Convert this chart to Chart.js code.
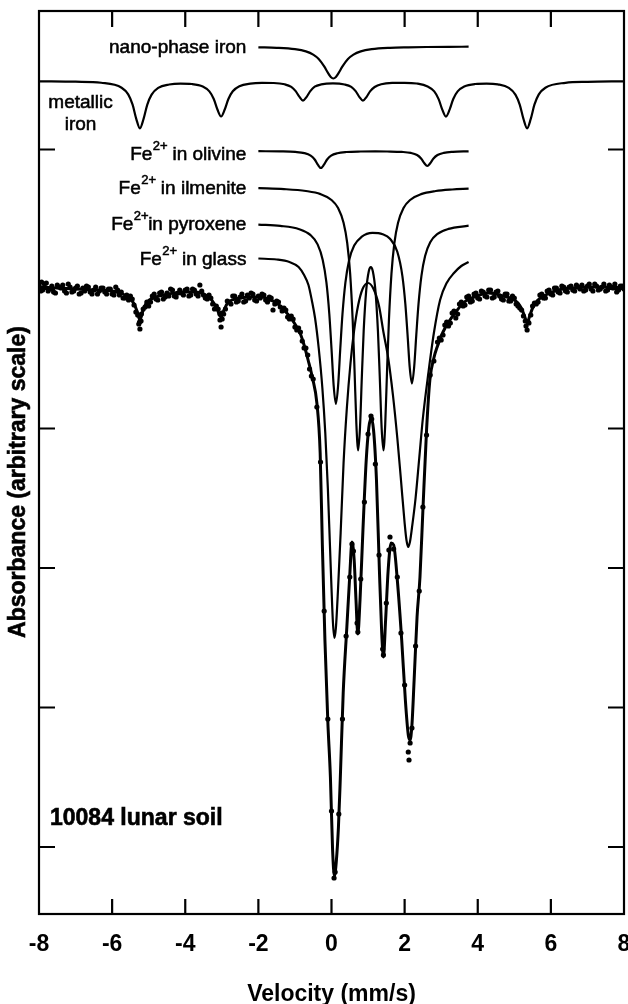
<!DOCTYPE html>
<html>
<head>
<meta charset="utf-8">
<script src="https://cdn.jsdelivr.net/npm/chart.js@4.4.1/dist/chart.umd.min.js"></script>
<style>
html,body{margin:0;padding:0;background:#fff;}
canvas{display:block;}
</style>
</head>
<body>
<canvas id="c" width="628" height="1004"></canvas>
<script>
// ---------- axis ticks ----------
const xTickLabels = ['-8','-6','-4','-2','0','2','4','6','8'];
const yTickValues = [0, 139.5, 279, 418.5, 558, 697.5];

// ---------- measured spectrum (velocity mm/s, absorbance arb. units) ----------
const dataVel = [
-8,-7.9,-7.8,-7.7,-7.6,-7.5,-7.4,-7.3,-7.2,-7.1,
-7,-6.9,-6.8,-6.7,-6.6,-6.5,-6.4,-6.3,-6.2,-6.1,
-6,-5.9,-5.8,-5.7,-5.6,-5.5,-5.4,-5.3,-5.2,-5.1,
-5,-4.9,-4.8,-4.7,-4.6,-4.5,-4.4,-4.3,-4.2,-4.1,
-4,-3.9,-3.8,-3.7,-3.6,-3.5,-3.4,-3.3,-3.2,-3.1,
-3,-2.9,-2.8,-2.7,-2.6,-2.5,-2.4,-2.3,-2.2,-2.1,
-2,-1.9,-1.8,-1.7,-1.6,-1.5,-1.4,-1.3,-1.2,-1.1,
-1,-0.9,-0.8,-0.7,-0.6,-0.5,-0.4,-0.3,-0.2,-0.1,
0,0.1,0.2,0.3,0.4,0.5,0.6,0.7,0.8,0.9,
1,1.1,1.2,1.3,1.4,1.5,1.6,1.7,1.8,1.9,
2,2.1,2.2,2.3,2.4,2.5,2.6,2.7,2.8,2.9,
3,3.1,3.2,3.3,3.4,3.5,3.6,3.7,3.8,3.9,
4,4.1,4.2,4.3,4.4,4.5,4.6,4.7,4.8,4.9,
5,5.1,5.2,5.3,5.4,5.5,5.6,5.7,5.8,5.9,
6,6.1,6.2,6.3,6.4,6.5,6.6,6.7,6.8,6.9,
7,7.1,7.2,7.3,7.4,7.5,7.6,7.7,7.8,7.9,
8];
const dataAbs = [
562,557,564,558,555,562,559,556,563,555,
559,553,559,561,555,557,553,559,555,558,
553,560,552,549,552,551,542,532,533,540,
541,551,548,554,548,554,558,551,554,554,
557,551,558,553,562,552,548,549,538,538,
534,538,545,551,545,550,545,552,554,547,
551,553,547,550,537,546,540,539,530,531,
520,519,506,499,478,468,440,385,236,128,
36,-25,33,128,211,270,296,224,268,345,
413,428,383,292,198,244,310,298,270,214,
162,95,119,201,256,340,412,472,486,505,
507,522,521,534,529,543,541,550,545,553,
549,556,551,557,549,555,551,547,553,546,
549,541,537,526,524,541,543,552,549,556,
553,559,555,561,556,560,557,562,558,556,
561,558,563,557,560,556,562,559,555,561,
558];
// interleaved channels on the flat wings
const wingVel = [
-7.95,-7.85,-7.75,-7.65,-7.55,-7.45,-7.35,-7.25,-7.15,-7.05,
-6.95,-6.85,-6.75,-6.65,-6.55,-6.45,-6.35,-6.25,-6.15,-6.05,
-5.95,-5.85,-5.75,-5.65,-5.55,-5.45,-5.35,-5.25,-5.15,-5.05,
-4.95,-4.85,-4.75,-4.65,-4.55,-4.45,-4.35,-4.25,-4.15,-4.05,
-3.95,-3.85,-3.75,-3.65,-3.55,-3.45,-3.35,-3.25,-3.15,-3.05,
-2.95,-2.85,-2.75,-2.65,-2.55,-2.45,-2.35,-2.25,-2.15,-2.05,
-1.95,-1.85,-1.75,-1.65,-1.55,-1.45,-1.35,-1.25,-1.15,-1.05,
-0.95,-0.85,-0.75,-0.65,-0.55,
2.95,3.05,3.15,3.25,3.35,3.45,3.55,3.65,3.75,3.85,
3.95,4.05,4.15,4.25,4.35,4.45,4.55,4.65,4.75,4.85,
4.95,5.05,5.15,5.25,5.45,5.55,5.65,5.75,5.85,5.95,
6.05,6.15,6.25,6.35,6.45,6.55,6.65,6.75,6.85,6.95,
7.05,7.15,7.25,7.35,7.45,7.55,7.65,7.75,7.85,7.95];
const wingAbs = [
556,563,556,561,554,560,562,554,560,556,
561,554,556,560,553,560,556,559,553,558,
552,557,555,549,547,548,535,525,538,545,
545,553,547,555,550,551,557,550,557,552,
558,552,557,551,556,549,552,543,541,533,
533,546,543,551,546,553,546,549,553,546,
549,552,545,549,543,545,536,537,528,528,
517,515,499,492,471,
509,512,525,524,536,533,545,542,551,546,
554,548,555,550,557,550,556,548,553,546,
551,543,539,531,532,544,545,553,549,557,
552,559,554,560,555,561,556,560,562,557,
563,556,561,558,563,557,560,563,557,561];
const extraVel = [-7.93,-5.27,-5.24,-5.21,-3.05,-3.02,-2.99,0.07,0.56,0.72,1.08,1.42,1.57,2.12,2.15,5.32,5.35,5.38];
const extraAbs = [565,523,518,526,527,520,528,-31,303,215,431,192,297,87,104,521,517,525];

// ---------- fitted envelope ----------
const fitVel = [-8,-7.5,-7,-6.5,-6,-5.8,-5.65,-5.5,-5.4,-5.32,-5.24,-5.16,-5.08,-4.98,-4.8,-4.6,-4.3,-4,-3.7,-3.5,
-3.35,-3.22,-3.12,-3.02,-2.94,-2.84,-2.72,-2.5,-2.2,-1.9,-1.68,-1.5,-1.33,-1.15,-1,-0.86,-0.75,-0.64,-0.52,-0.4,
-0.31,-0.25,-0.18,-0.1,-0.03,0.03,0.08,0.13,0.19,0.24,0.32,0.42,0.5,0.56,0.62,0.67,0.72,0.78,0.86,0.95,
1.02,1.08,1.15,1.23,1.31,1.37,1.42,1.48,1.55,1.63,1.7,1.8,1.92,2.02,2.1,2.15,2.2,2.26,2.34,2.42,
2.5,2.6,2.69,2.8,2.89,3.05,3.24,3.4,3.6,3.9,4.3,4.7,4.95,5.1,5.2,5.28,5.35,5.42,5.5,5.62,
5.8,6.2,6.6,7.1,7.6,8];
const fitAbs = [560,559,558,557,556,554,552,548,543,536,527,536,543,547,550,552,554,555,555,553,
550,544,537,530,537,544,547,549,550,550,547,544,538,531,523,514,502,487,469,444,
394,302,207,125,70,-3,-29,-15,20,68,154,220,272,305,287,247,213,247,317,387,
419,429,417,367,277,217,190,227,277,304,302,267,207,147,112,107,122,167,230,270,
337,417,467,489,500,515,527,535,544,550,554,551,548,544,538,531,524,531,539,546,
551,557,559,560,560,559];

// ---------- fitted sub-spectra (velocity, absorption depth) ----------
const nanoVel = [-2,-1.5,-1,-0.7,-0.5,-0.35,-0.2,-0.1,-0.02,0.05,0.12,0.2,0.3,0.45,0.6,0.8,1.1,1.6,2.1,2.6,3.2,3.75];
const nanoDepth = [0.8,1.3,2.7,4.9,8.1,12.5,19.9,26.2,30.5,32,30.5,26.2,19.9,12.5,8.1,4.9,2.7,1.3,0.8,0.5,0.3,0.2];

const metallicVel = [-8,-7,-6.3,-5.74,-5.56,-5.44,-5.34,-5.24,-5.14,-5.04,-4.92,-4.74,-4.44,-4.13,-3.82,-3.52,-3.34,-3.22,-3.12,-3.02,
-2.92,-2.82,-2.7,-2.52,-2.22,-1.9,-1.58,-1.28,-1.1,-0.98,-0.88,-0.78,-0.68,-0.58,-0.46,-0.28,0.04,0.36,0.54,0.66,
0.76,0.86,0.96,1.06,1.18,1.36,1.66,2,2.33,2.63,2.81,2.93,3.03,3.13,3.23,3.33,3.45,3.63,3.93,4.24,
4.55,4.85,5.03,5.15,5.25,5.35,5.45,5.55,5.67,5.85,6.4,7,8];
const metallicDepth = [0.3,0.7,1.75,6.7,13.4,23.7,37.8,47.3,37.9,23.8,13.6,6.9,3.5,2.6,3.0,5.5,10.4,18.0,28.5,35.5,
28.5,18.0,10.3,5.3,2.6,1.9,2.0,3.3,5.9,10.1,15.7,19.6,15.8,10.1,5.7,3.4,2.4,3.5,5.9,10.1,
15.8,19.6,15.8,10.1,6.0,3.2,1.9,1.8,2.5,5.4,10.4,18.1,28.6,35.6,28.7,18.0,10.4,5.5,3.0,2.6,
3.4,6.9,13.6,23.8,37.9,47.3,37.9,23.7,13.4,6.7,1.8,0.8,0.3];

const olivineVel = [-2,-1.4,-0.99,-0.74,-0.57,-0.46,-0.37,-0.29,-0.21,-0.12,-0.01,0.16,0.41,0.8,1.2,1.52,1.92,2.17,2.34,2.45,2.54,2.62,2.7,2.79,2.9,3.07,3.32,3.75];
const olivineDepth = [0.2,0.4,0.95,2.1,4.6,8.5,13.9,17.0,13.9,8.5,4.6,2.2,1.0,0.5,0.4,0.5,0.9,1.9,4.05,7.5,12.3,15.0,12.3,7.5,4.05,1.9,0.84,0.33];

const ilmeniteVel = [-2,-1.3,-0.7,-0.3,0,0.18,0.33,0.43,0.51,0.58,0.63,0.68,0.73,0.78,0.83,0.88,0.95,1.02,1.075,1.13,1.2,1.27,1.32,1.37,1.42,1.47,1.52,1.57,1.64,1.72,1.82,1.97,2.15,2.45,2.85,3.3,3.75];
const ilmeniteDepth = [1.2,2.1,4.0,7.1,13.0,21.0,35.7,56,86.6,133.8,183,237,263.4,240,189.7,144,103.2,84.2,80.1,84.2,103.2,144,189.7,240,263.4,237,183,133.8,86.6,56,35.7,21.0,13.0,7.1,4.0,2.5,1.7];

const pyroxeneVel = [-2,-1.4,-0.88,-0.58,-0.38,-0.24,-0.14,-0.06,0,0.06,0.12,0.18,0.24,0.3,0.38,0.48,0.62,0.82,1.12,1.4,1.6,1.8,1.94,2.02,2.08,2.14,2.2,2.26,2.32,2.38,2.46,2.56,2.7,2.9,3.2,3.75];
const pyroxeneDepth = [1.6,2.9,6.2,11.9,21.4,36.9,59.2,91,125.6,163,181,163,125.8,91.2,59.6,37.4,22.6,13.9,9.9,11.2,15.7,28.8,53.3,81.1,111.6,144.6,160.5,144.5,111.4,80.9,52.8,33.0,19.3,10.9,5.9,2.7];

const glassVel = [-2,-1.5,-1.15,-0.9,-0.75,-0.63,-0.54,-0.45,-0.35,-0.25,-0.17,-0.1,-0.04,0,0.04,0.08,0.12,0.18,0.25,0.33,0.42,0.52,0.62,0.73,0.85,1,1.15,1.3,1.42,1.55,1.68,1.8,1.9,2,2.05,2.1,2.15,2.2,2.3,2.4,2.5,2.65,2.8,2.97,3.15,3.35,3.55,3.75];
const glassDepth = [0.5,1.5,4,9,17,27,42,60,90,130,175,230,290,330,365,380,370,330,275,205,150,105,72,47,31,25,31,48,74,100,137,180,222,265,282,289,283,270,240,200,160,115,75,42,25,15,8,4];

// vertical offsets of the stacked sub-spectra (baseline levels, arb. units)
const nanoBase = 800.5;
const metallicBase = 766;
const olivineBase = 696;
const ilmeniteBase = 660;
const pyroxeneBase = 624;
const glassBase = 589;

// ---------- build datasets ----------
const toPts = (xs, ys) => xs.map((x, i) => ({x: x, y: ys[i]}));
const compPts = (xs, ds, base) => xs.map((x, i) => ({x: x, y: base - ds[i]}));

const FONT = '"Liberation Sans", Arial, Helvetica, sans-serif';
Chart.defaults.font.family = FONT;
Chart.defaults.color = '#000';

const compStyle = {borderColor: '#000', borderWidth: 2.2, pointRadius: 0, cubicInterpolationMode: 'monotone', fill: false};

const framePlugin = {
  id: 'frameAndLabels',
  afterDraw(chart) {
    const {ctx, chartArea: a, scales: {x, y}} = chart;
    ctx.save();
    ctx.strokeStyle = '#000';
    ctx.lineWidth = 2.2;
    ctx.strokeRect(a.left, a.top, a.right - a.left, a.bottom - a.top);
    ctx.beginPath();
    x.ticks.forEach(t => {
      const px = x.getPixelForValue(t.value);
      if (px <= a.left + 2 || px >= a.right - 2) return;
      ctx.moveTo(px, a.bottom); ctx.lineTo(px, a.bottom - 15);
      ctx.moveTo(px, a.top); ctx.lineTo(px, a.top + 16);
    });
    y.ticks.forEach(t => {
      const py = y.getPixelForValue(t.value);
      ctx.moveTo(a.left, py); ctx.lineTo(a.left + 16, py);
      ctx.moveTo(a.right, py); ctx.lineTo(a.right - 16, py);
    });
    ctx.stroke();

    ctx.fillStyle = '#000';
    ctx.strokeStyle = '#000';
    // y-axis title
    ctx.save();
    ctx.translate(19, 482);
    ctx.rotate(-Math.PI / 2);
    ctx.font = 'bold 23px ' + FONT;
    ctx.textAlign = 'center';
    ctx.textBaseline = 'middle';
    ctx.fillText('Absorbance (arbitrary scale)', 0, 0);
    ctx.lineWidth = 0.6;
    ctx.strokeText('Absorbance (arbitrary scale)', 0, 0);
    ctx.restore();

    // component labels
    const rightX = x.getPixelForValue(-2) - 12;
    const mainF = '19px ' + FONT, supF = '13px ' + FONT;
    ctx.textBaseline = 'alphabetic';
    ctx.textAlign = 'left';
    ctx.lineWidth = 0.55;
    function txt(t, px, py) { ctx.fillText(t, px, py); ctx.strokeText(t, px, py); }
    function plain(text, midY) {
      ctx.font = mainF;
      const w = ctx.measureText(text).width;
      txt(text, rightX - w, midY + 6);
    }
    function feLabel(rest, midY) {
      ctx.font = mainF;
      const wFe = ctx.measureText('Fe').width;
      const wRest = ctx.measureText(rest).width;
      ctx.font = supF;
      const wSup = ctx.measureText('2+').width;
      let px = rightX - (wFe + wSup + wRest);
      const base = midY + 7;
      ctx.font = mainF; txt('Fe', px, base); px += wFe;
      ctx.font = supF; txt('2+', px + 0.5, base - 10); px += wSup;
      ctx.font = mainF; txt(rest, px, base);
    }
    plain('nano-phase iron', y.getPixelForValue(nanoBase));
    feLabel(' in olivine', y.getPixelForValue(olivineBase) + 2);
    feLabel(' in ilmenite', y.getPixelForValue(ilmeniteBase));
    feLabel('in pyroxene', y.getPixelForValue(pyroxeneBase));
    feLabel(' in glass', y.getPixelForValue(glassBase));
    const mY = y.getPixelForValue(metallicBase);
    ctx.font = mainF;
    ctx.textAlign = 'center';
    txt('metallic', 80.5, mY + 27);
    txt('iron', 80.5, mY + 49);

    // sample label
    ctx.textAlign = 'left';
    ctx.textBaseline = 'middle';
    ctx.font = 'bold 23px ' + FONT;
    ctx.lineWidth = 0.6;
    txt('10084 lunar soil', 50, 819);
    ctx.restore();
  }
};

new Chart(document.getElementById('c'), {
  type: 'line',
  data: {
    datasets: [
      {label: 'Data', data: toPts(dataVel, dataAbs).concat(toPts(wingVel, wingAbs), toPts(extraVel, extraAbs)), showLine: false,
       pointRadius: 2.6, pointBackgroundColor: '#000', pointBorderWidth: 0, borderColor: '#000'},
      {label: 'Fit', data: toPts(fitVel, fitAbs), borderColor: '#000', borderWidth: 3, pointRadius: 0,
       cubicInterpolationMode: 'monotone', fill: false},
      Object.assign({label: 'nano-phase iron', data: compPts(nanoVel, nanoDepth, nanoBase)}, compStyle),
      Object.assign({label: 'metallic iron', data: compPts(metallicVel, metallicDepth, metallicBase)}, compStyle),
      Object.assign({label: 'Fe2+ in olivine', data: compPts(olivineVel, olivineDepth, olivineBase)}, compStyle),
      Object.assign({label: 'Fe2+ in ilmenite', data: compPts(ilmeniteVel, ilmeniteDepth, ilmeniteBase)}, compStyle),
      Object.assign({label: 'Fe2+ in pyroxene', data: compPts(pyroxeneVel, pyroxeneDepth, pyroxeneBase)}, compStyle),
      Object.assign({label: 'Fe2+ in glass', data: compPts(glassVel, glassDepth, glassBase)}, compStyle)
    ]
  },
  options: {
    responsive: false,
    animation: false,
    devicePixelRatio: 1,
    layout: {padding: {top: 11, right: 4, left: 0, bottom: 0}},
    plugins: {legend: {display: false}, tooltip: {enabled: false}},
    scales: {
      x: {
        type: 'linear', min: -8, max: 8,
        grid: {display: false}, border: {display: false},
        ticks: {stepSize: 2, padding: 9, color: '#000', maxRotation: 0, autoSkip: false,
                font: {size: 23, weight: 'bold'},
                callback: (v, i) => xTickLabels[i]},
        title: {display: true, text: 'Velocity (mm/s)', color: '#000',
                font: {size: 23, weight: 'bold'}, padding: {top: 0, bottom: -4}},
        afterFit(s) { s.height = 90; s.paddingLeft = 0; s.paddingRight = 0; }
      },
      y: {
        type: 'linear', min: -67, max: 836,
        grid: {display: false}, border: {display: false},
        ticks: {display: false},
        afterBuildTicks(s) { s.ticks = yTickValues.map(v => ({value: v})); },
        afterFit(s) { s.width = 39; }
      }
    }
  },
  plugins: [framePlugin]
});
</script>
</body>
</html>
